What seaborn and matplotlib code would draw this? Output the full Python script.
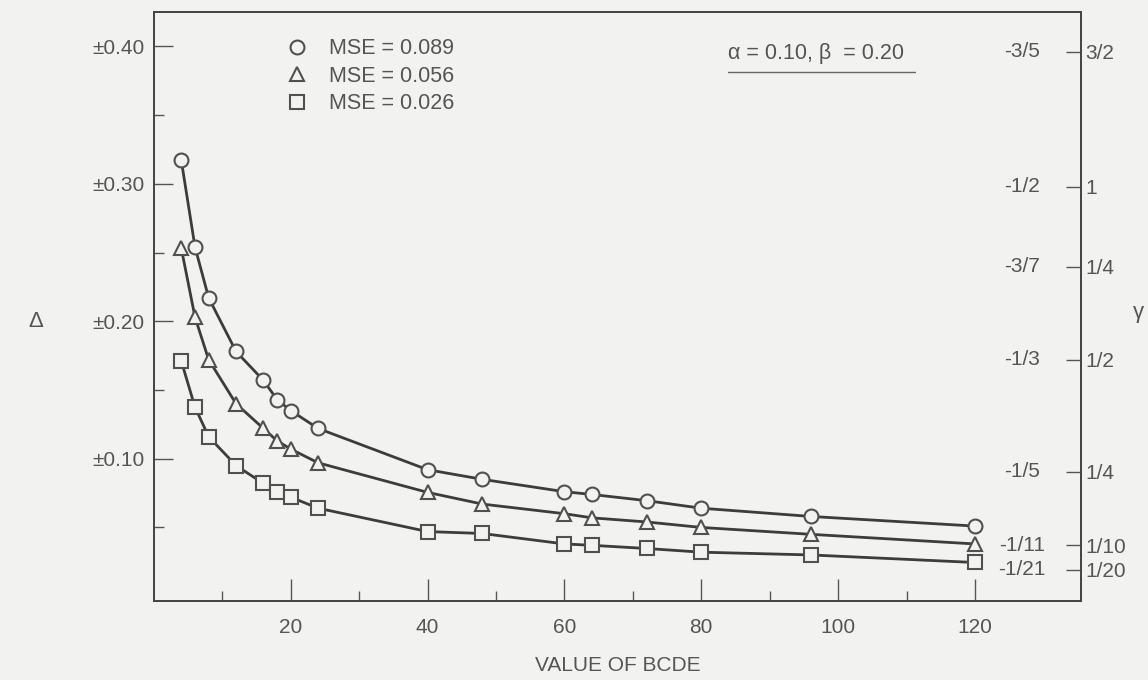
import matplotlib
matplotlib.use("Agg")
import matplotlib.pyplot as plt
from matplotlib.lines import Line2D
import pandas as pd
import seaborn as sns

# values
x_bcde = [4, 6, 8, 12, 16, 18, 20, 24, 40, 48, 60, 64, 72, 80, 96, 120]
mse_089 = [0.317, 0.254, 0.217, 0.178, 0.157, 0.143, 0.135, 0.122,
           0.092, 0.085, 0.076, 0.074, 0.0695, 0.064, 0.058, 0.051]
mse_056 = [0.253, 0.203, 0.172, 0.140, 0.122, 0.113, 0.107, 0.097,
           0.0755, 0.067, 0.060, 0.057, 0.054, 0.050, 0.045, 0.038]
mse_026 = [0.171, 0.1375, 0.116, 0.095, 0.082, 0.076, 0.072, 0.064,
           0.047, 0.0456, 0.038, 0.037, 0.0347, 0.032, 0.030, 0.0245]
series_labels = ['MSE = 0.089', 'MSE = 0.056', 'MSE = 0.026']
series_markers = ['o', '^', 's']

left_ticks = [0.10, 0.20, 0.30, 0.40]
left_labels = ['\u00b10.10', '\u00b10.20', '\u00b10.30', '\u00b10.40']
right_ticks = [0.396, 0.298, 0.2395, 0.172, 0.0906, 0.037, 0.0192]
right_outer = ['3/2', '1', '1/4', '1/2', '1/4', '1/10', '1/20']
right_inner = ['-3/5', '-1/2', '-3/7', '-1/3', '-1/5', '-1/11', '-1/21']

bg = '#f2f2f0'
ink = '#555555'
line_col = '#3c3c3c'

sns.set_theme(style='white', rc={'axes.facecolor': bg, 'figure.facecolor': bg,
                                 'axes.edgecolor': '#444444', 'text.color': ink,
                                 'xtick.color': ink, 'ytick.color': ink,
                                 'axes.labelcolor': ink})
plt.rcParams['font.family'] = ['Liberation Sans', 'DejaVu Sans']

df = pd.DataFrame({'BCDE': x_bcde * 3,
                   'Delta': mse_089 + mse_056 + mse_026,
                   'series': sum([[s] * len(x_bcde) for s in series_labels], [])})

fig = plt.figure(figsize=(11.48, 6.8), dpi=100)
ax = fig.add_axes([0.1341, 0.1162, 0.8075, 0.8662])

for lab, m in zip(series_labels, series_markers):
    sns.lineplot(data=df[df['series'] == lab], x='BCDE', y='Delta', ax=ax,
                 color=line_col, lw=2, marker=m, markersize=10,
                 markerfacecolor=bg, markeredgecolor='#505050',
                 markeredgewidth=1.5, legend=False)

ax.set_xlim(0, 135.5)
ax.set_ylim(-0.0035, 0.425)
ax.set_xticks([20, 40, 60, 80, 100, 120])
ax.set_xticks([10, 30, 50, 70, 90, 110], minor=True)
ax.set_yticks(left_ticks)
ax.set_yticklabels(left_labels)
ax.set_yticks([0.05, 0.15, 0.25, 0.35], minor=True)
ax.tick_params(axis='x', which='both', direction='in', bottom=True, top=False,
               labelsize=15, pad=12)
ax.tick_params(axis='x', which='major', length=16, width=1)
ax.tick_params(axis='x', which='minor', length=7, width=1)
ax.tick_params(axis='y', which='both', direction='in', left=True, right=False,
               labelsize=15, pad=7)
ax.tick_params(axis='y', which='major', length=14, width=1)
ax.tick_params(axis='y', which='minor', length=7, width=1)

ax.set_xlabel('VALUE OF BCDE', fontsize=15, labelpad=14)
ax.set_ylabel('\u0394', fontsize=16, rotation=0, va='center')
ax.yaxis.set_label_coords(-0.128, 0.475)

# right-hand gamma scale
ax2 = ax.twinx()
ax2.set_ylim(ax.get_ylim())
ax2.set_yticks(right_ticks)
ax2.set_yticklabels(right_outer)
ax2.tick_params(axis='y', direction='in', length=11, width=1, pad=3,
                labelsize=15, right=True)
ax2.set_ylabel('\u03b3', fontsize=16, rotation=0, va='center')
ax2.yaxis.set_label_coords(1.062, 0.49)
for pos, lab in zip(right_ticks, right_inner):
    ax.text(0.936, pos, lab, transform=ax.get_yaxis_transform(),
            ha='center', va='center', fontsize=15)

# parameter note, underlined
ax.text(0.619, 0.395, '\u03b1 = 0.10, \u03b2  = 0.20', transform=ax.get_yaxis_transform(),
        ha='left', va='center', fontsize=15.5)
ax.axhline(0.381, 0.619, 0.821, color='#666666', lw=1)

handles = [Line2D([], [], ls='none', marker=m, markersize=10, markerfacecolor=bg,
                  markeredgecolor='#505050', markeredgewidth=1.5)
           for m in series_markers]
ax.legend(handles, series_labels, loc='upper left', bbox_to_anchor=(0.1426, 0.955),
          frameon=False, fontsize=15.5, handlelength=1.0, handletextpad=1.0,
          labelspacing=0.3, borderpad=0, borderaxespad=0)

fig.savefig('out.png', dpi=100, facecolor=bg)
